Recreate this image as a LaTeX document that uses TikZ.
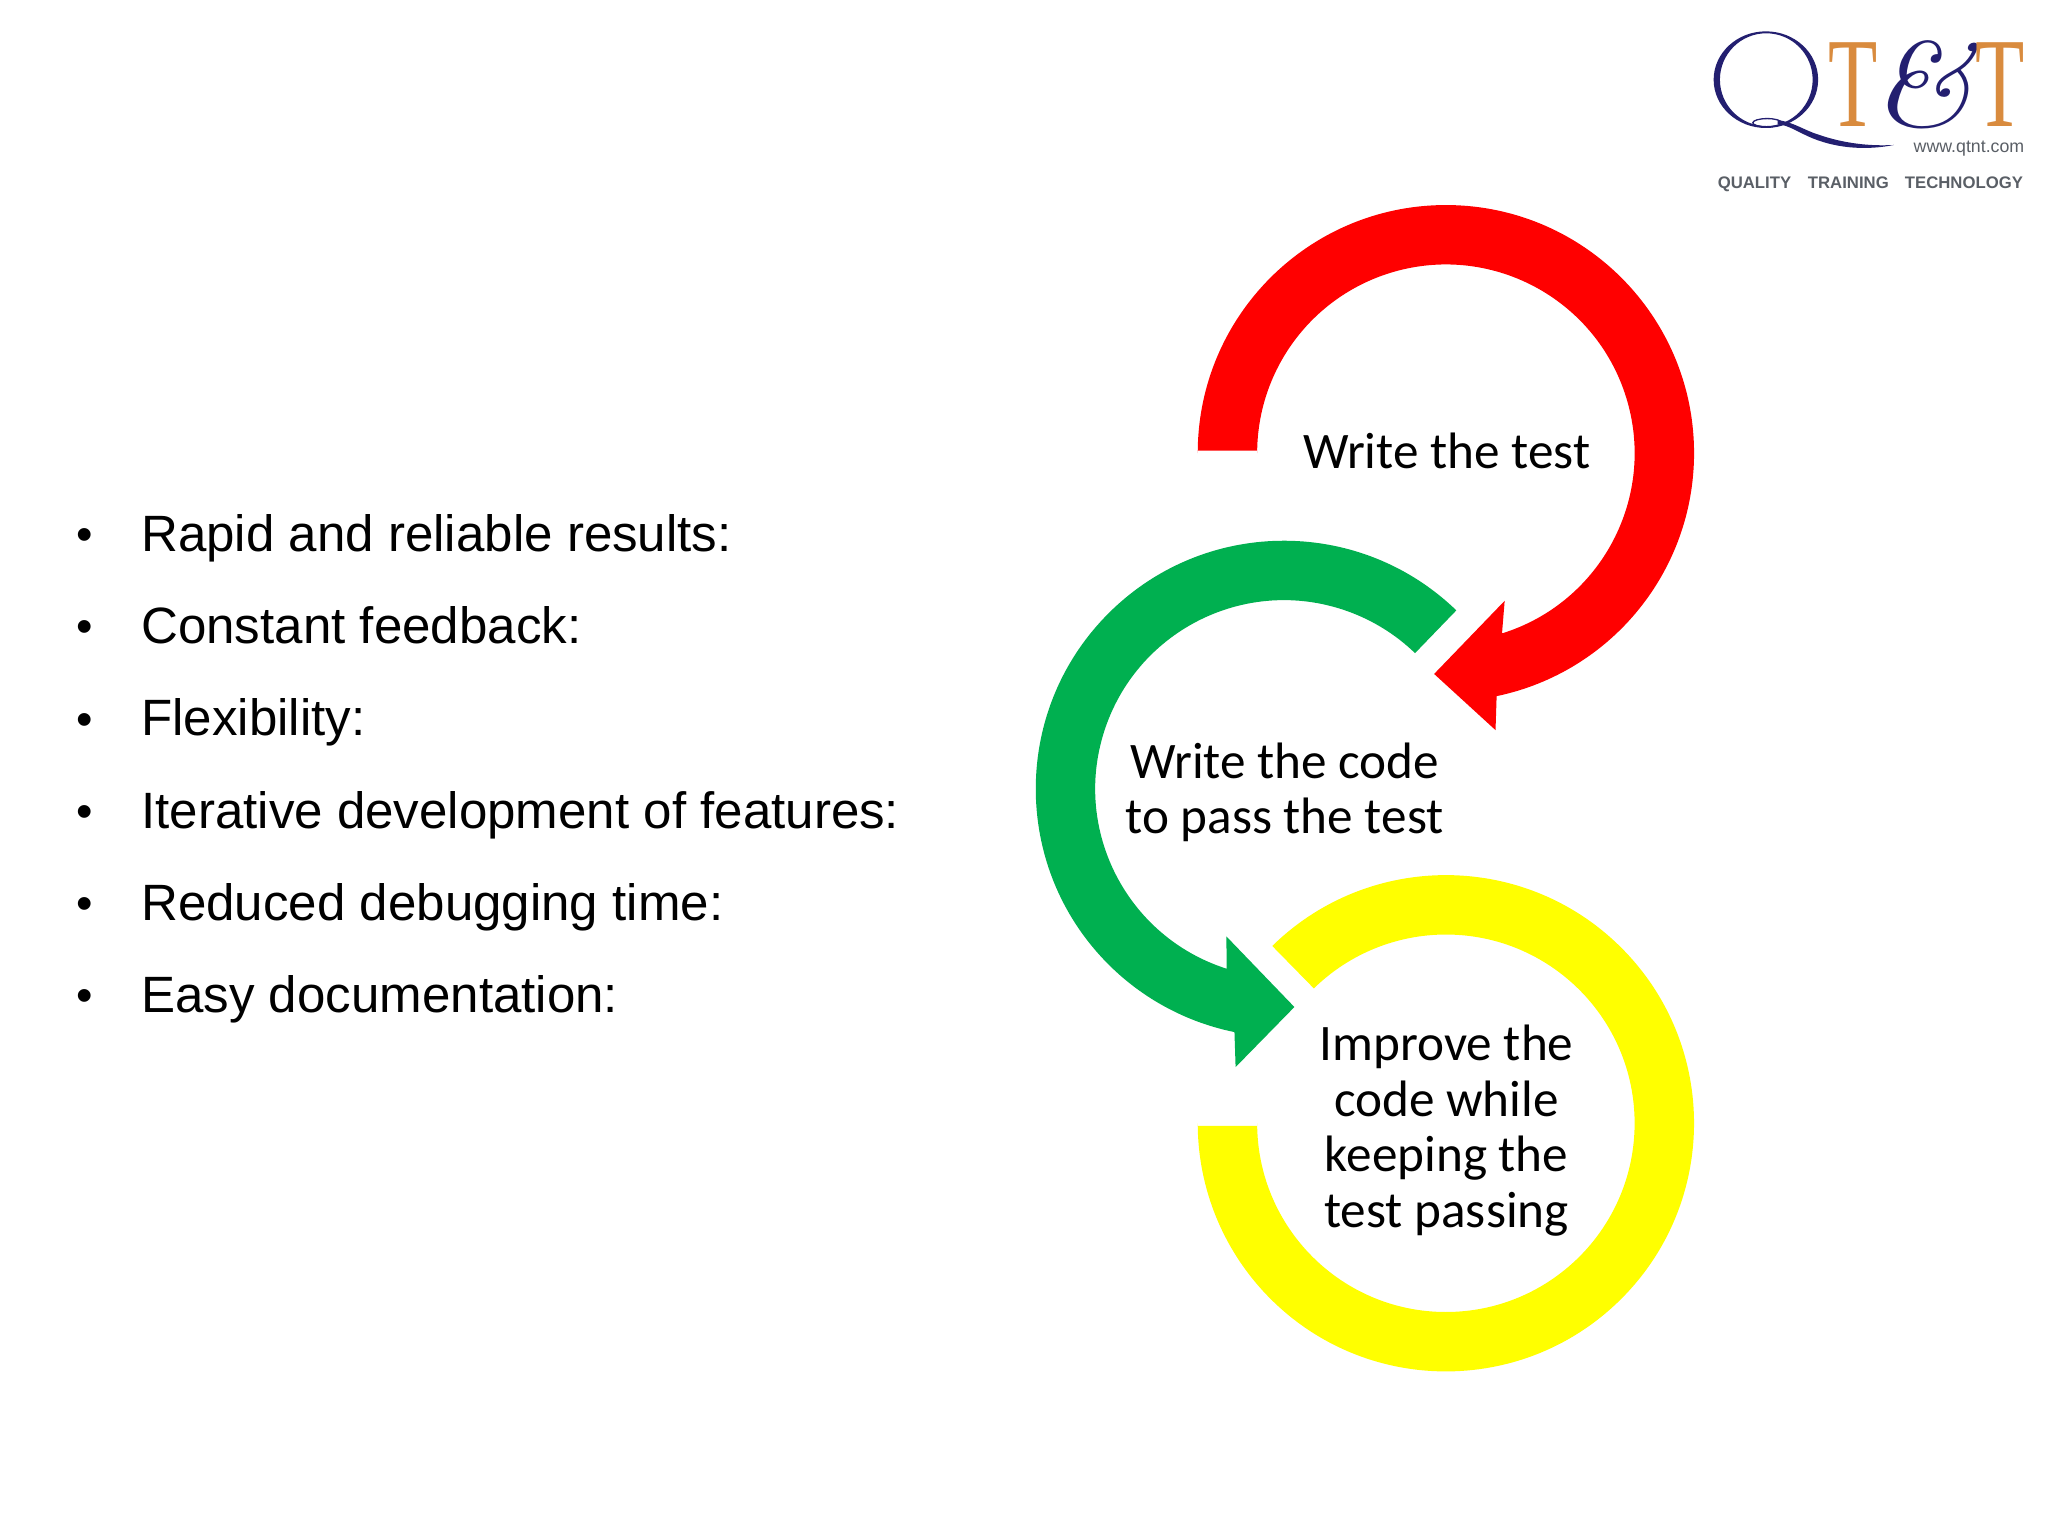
\documentclass[tikz,border=0pt]{standalone}
\usepackage{fontspec}
\newfontfamily\ampfont{Latin Modern Roman}
\setmainfont{Liberation Sans}
\newfontfamily\carlitofont{Carlito}
\newfontfamily\seriffont{Liberation Serif}
\definecolor{ringred}{HTML}{FF0000}
\definecolor{ringgreen}{HTML}{00B050}
\definecolor{ringyellow}{HTML}{FFFF00}
\definecolor{logonavy}{HTML}{231F70}
\definecolor{logoorange}{HTML}{D98B3E}
\definecolor{logogray}{HTML}{5A5F66}
\tikzset{
  x=1pt,y=1pt,
  listitem/.style={anchor=base west,inner sep=0pt,font=\fontsize{39.1}{39.1}\selectfont,text=black},
  listbullet/.style={anchor=base,inner sep=0pt,font=\fontsize{36}{36}\selectfont,text=black},
  ringlabel/.style={align=center,inner sep=0pt,font=\carlitofont\fontsize{39.2}{42.5}\selectfont,text=black},
  logoT/.style={anchor=base,inner sep=0pt,text=logoorange,font=\seriffont\fontsize{98}{98}\selectfont,xscale=.63,transform shape},
  logotag/.style={inner sep=0pt,text=logogray,font=\bfseries\fontsize{12.8}{12.8}\selectfont},
}
\begin{document}
\begin{tikzpicture}
\useasboundingbox (0,0) rectangle (1568,1176);
\fill[white] (0,0) rectangle (1568,1176);

% red ring
\begin{scope}[shift={(1107,829)}]
\fill[ringred] (-190,2) -- (180:190) arc[start angle=180,end angle=-78.2,radius=190pt]
  -- (1145-1107,347-559) -- (1098-1107,347-516) -- (1152-1107,347-460)
  -- (-72.7:144.5) arc[start angle=-72.7,end angle=180,radius=144.5pt] -- (-144.5,2) -- cycle;
\end{scope}
% green ring
\begin{scope}[shift={(983,572)}]
\fill[ringgreen] (46:190) arc[start angle=46,end angle=258.5,radius=190pt]
  -- (946-983,604-817) -- (991-983,604-771) -- (939-983,604-717)
  -- (252.3:144.5) arc[start angle=252.3,end angle=46,radius=144.5pt] -- cycle;
\end{scope}
% yellow ring
\begin{scope}[shift={(1107,316)}]
\fill[ringyellow] (134.4:190) arc[start angle=134.4,end angle=-180,radius=190pt]
  -- (-190,-2) -- (-144.5,-2) -- (180:144.5) arc[start angle=-180,end angle=134.4,radius=144.5pt] -- cycle;
\end{scope}

\node[ringlabel] (lwrite) at (1107.5,831) {Write the test};
\node[ringlabel] (lcode) at (983.5,569.5) {Write the code\\to pass the test};
\node[ringlabel] (limprove) at (1107.5,310.5) {Improve the\\code while\\keeping the\\test passing};

% list
\foreach \n/\t/\y in {a/Rapid and reliable results:/422,b/Constant feedback:/493,c/Flexibility:/563.5,d/Iterative development of features:/634,e/Reduced debugging time:/705,f/Easy documentation:/775.5}{
  \node[listbullet] (bullet\n) at (65,1176-\y+.7) {•};
  \node[listitem] (item\n) at (108,1176-\y) {\t};
}

% logo
\fill[logonavy,even odd rule] (1352,1115) ellipse [x radius=40pt,y radius=37pt]
  (1352.3,1115) ellipse [x radius=35.5pt,y radius=35.5pt];
\draw[logonavy,line width=1pt] (1353,1082) ellipse [x radius=11pt,y radius=3.2pt];
\fill[logonavy] (1361,1084) .. controls (1372,1083) and (1382,1076) .. (1392,1073)
  .. controls (1412,1066) and (1432,1064) .. (1450,1065)
  .. controls (1430,1061) and (1408,1062) .. (1388,1070)
  .. controls (1378,1074) and (1370,1080) .. (1361,1081) -- cycle;
\node[logoT] (logot1) at (1419,1079) {T};
\node[anchor=base,inner sep=0pt,text=logonavy,font=\ampfont\itshape\fontsize{92}{92}\selectfont,xscale=1.127,transform shape] (logoamp) at (1471.5,1079) {\&};
\node[logoT] (logot2) at (1531,1079) {T};
\node[anchor=base east,inner sep=0pt,text=logogray,font=\fontsize{13.6}{13.6}\selectfont] (logoweb) at (1550,1059.5) {www.qtnt.com};
\node[logotag,anchor=base west] (logoq) at (1315,1032) {QUALITY};
\node[logotag,anchor=base west] (logotr) at (1384,1032) {TRAINING};
\node[logotag,anchor=base east] (logotc) at (1549,1032) {TECHNOLOGY};
\end{tikzpicture}
\end{document}
